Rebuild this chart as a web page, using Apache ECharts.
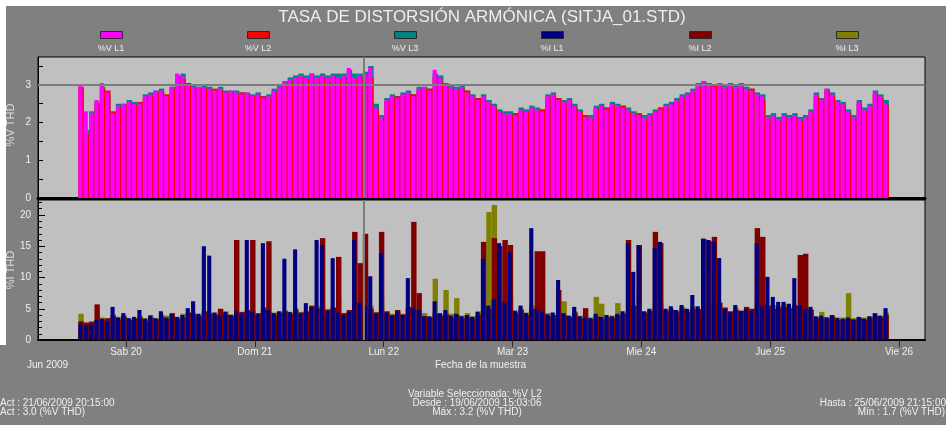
<!DOCTYPE html>
<html>
<head>
<meta charset="utf-8">
<script src="https://cdn.jsdelivr.net/npm/echarts@6/dist/echarts.min.js"></script>
<style>
html,body{margin:0;padding:0;background:#808080;}
#c{width:946px;height:425px;}
</style>
</head>
<body>
<div id="c"></div>
<script>
// ---- labels ----
const titleText = 'TASA DE DISTORSIÓN ARMÓNICA (SITJA_01.STD)';
const seriesNames = ['%V L1', '%V L2', '%V L3', '%I L1', '%I L2', '%I L3'];
const seriesColors = ['#ff00ff', '#ff0000', '#008080', '#000080', '#800000', '#808000'];
const axisNames = ['%V THD', '%I THD'];
const dayLabels = ['Sab 20', 'Dom 21', 'Lun 22', 'Mar 23', 'Mie 24', 'Jue 25', 'Vie 26'];
const vLabelTicks = [0, 1, 2, 3];
const vTickMarks = [0, 0.5, 1, 1.5, 2, 2.5, 3, 3.5];
const iLabelTicks = [0, 5, 10, 15, 20];
const iMinorTicks = [0,1,2,3,4,5,6,7,8,9,10,11,12,13,14,15,16,17,18,19,20,21,22];
const vLimit = 3;

// ---- hourly THD values, 19/06 15:30 .. 25/06 21:30 ----
const vL1 = [3.0,2.3,2.25,2.6,3.05,2.8,2.25,2.45,2.5,2.55,
 2.5,2.5,2.7,2.75,2.85,2.85,2.7,2.95,3.3,3.25,
 3.0,2.95,2.95,2.95,2.9,2.85,2.9,2.8,2.85,2.8,
 2.75,2.8,2.7,2.75,2.65,2.7,2.85,2.95,3.1,3.15,
 3.2,3.25,3.2,3.3,3.2,3.25,3.2,3.25,3.2,3.25,
 3.45,3.2,3.25,3.3,3.45,2.4,2.15,2.6,2.7,2.65,
 2.75,2.8,2.7,2.9,2.95,2.85,3.4,3.2,3.0,2.95,
 2.9,2.95,2.8,2.7,2.6,2.7,2.55,2.45,2.3,2.25,
 2.25,2.2,2.35,2.3,2.4,2.35,2.3,2.7,2.75,2.6,
 2.55,2.6,2.45,2.3,2.15,2.15,2.4,2.45,2.35,2.5,
 2.45,2.4,2.35,2.25,2.2,2.15,2.2,2.3,2.35,2.45,
 2.5,2.6,2.7,2.75,2.85,3.0,3.1,3.0,2.95,3.05,
 2.95,3.0,2.95,3.0,2.9,2.85,2.75,2.7,2.15,2.2,
 2.1,2.2,2.15,2.2,2.1,2.15,2.3,2.75,2.6,2.9,
 2.75,2.55,2.5,2.3,2.15,2.55,2.35,2.45,2.8,2.7,
 2.5];
const vL2 = [2.95,1.7,2.2,2.5,2.9,2.85,2.3,2.4,2.45,2.5,
 2.45,2.55,2.65,2.7,2.8,2.8,2.75,2.9,3.2,3.15,
 3.05,2.9,2.9,2.9,2.85,2.9,2.85,2.8,2.8,2.75,
 2.8,2.75,2.7,2.7,2.7,2.65,2.8,2.9,3.05,3.1,
 3.1,3.2,3.15,3.2,3.15,3.2,3.1,3.2,3.15,3.2,
 3.2,3.15,3.2,3.0,3.2,2.35,2.1,2.55,2.65,2.7,
 2.7,2.75,2.75,2.85,2.9,2.9,3.2,3.1,2.95,2.9,
 2.85,2.9,2.85,2.65,2.65,2.6,2.5,2.4,2.3,2.2,
 2.2,2.25,2.3,2.3,2.35,2.3,2.35,2.65,2.7,2.65,
 2.5,2.55,2.4,2.3,2.2,2.1,2.35,2.4,2.4,2.45,
 2.4,2.45,2.3,2.2,2.25,2.1,2.2,2.25,2.4,2.4,
 2.45,2.55,2.65,2.7,2.8,2.95,3.05,2.95,3.0,3.0,
 2.9,2.95,2.9,2.95,2.85,2.9,2.7,2.6,2.1,2.15,
 2.05,2.15,2.1,2.15,2.05,2.1,2.25,2.7,2.55,2.85,
 2.7,2.5,2.45,2.25,2.1,2.5,2.3,2.4,2.75,2.65,
 2.45];
const vL3 = [2.9,1.8,2.3,2.55,2.95,2.75,2.2,2.5,2.5,2.6,
 2.55,2.45,2.75,2.8,2.85,2.9,2.65,2.95,3.25,3.3,
 2.95,3.0,2.95,3.0,2.95,2.85,2.95,2.85,2.85,2.85,
 2.8,2.8,2.75,2.8,2.7,2.75,2.9,3.0,3.1,3.2,
 3.25,3.3,3.25,3.3,3.25,3.3,3.25,3.3,3.3,3.3,
 3.4,3.3,3.3,3.35,3.5,2.5,2.2,2.65,2.75,2.7,
 2.8,2.85,2.75,2.95,2.95,2.9,3.3,3.25,3.05,3.0,
 2.95,3.0,2.85,2.75,2.65,2.75,2.6,2.5,2.35,2.3,
 2.3,2.25,2.4,2.35,2.45,2.4,2.35,2.75,2.8,2.65,
 2.6,2.65,2.5,2.35,2.2,2.2,2.45,2.5,2.4,2.55,
 2.5,2.45,2.4,2.3,2.25,2.2,2.25,2.35,2.4,2.5,
 2.55,2.65,2.75,2.8,2.9,3.05,3.1,3.05,3.0,3.05,
 3.0,3.05,3.0,3.05,2.95,2.9,2.8,2.75,2.2,2.25,
 2.15,2.25,2.2,2.25,2.15,2.2,2.35,2.8,2.65,2.9,
 2.8,2.6,2.55,2.35,2.2,2.6,2.4,2.5,2.85,2.75,
 2.6];
const iL1 = [2.6,2.3,2.5,3.2,3.4,3.0,5.3,3.6,4.3,3.5,
 3.7,4.8,3.4,3.9,3.5,4.6,3.6,4.1,3.7,4.0,
 5.1,6.2,4.2,15.0,13.5,4.4,3.9,4.5,4.0,4.6,
 4.2,16.0,4.5,4.1,15.5,4.8,4.3,4.6,13.0,4.5,
 14.5,4.2,5.9,5.2,16.0,15.2,4.6,13.1,4.4,4.0,
 4.5,16.0,6.0,5.5,10.2,4.2,13.9,4.4,3.9,4.6,
 4.0,9.9,5.1,4.8,3.8,3.8,6.2,4.3,4.8,3.9,
 4.2,3.8,4.0,3.7,4.5,13.0,5.5,6.5,15.5,6.0,
 14.0,4.7,5.5,4.3,17.9,5.0,4.5,4.1,4.4,9.6,
 4.3,3.9,5.3,3.8,3.6,3.5,4.2,3.7,4.0,3.8,
 4.2,4.6,15.5,10.9,15.2,4.6,5.0,14.7,15.7,5.0,
 5.4,4.8,5.6,5.0,7.2,5.4,16.2,16.0,15.7,13.1,
 5.0,4.4,5.6,4.6,5.0,4.7,15.5,5.5,10.1,6.9,
 6.1,6.1,5.8,9.9,5.5,5.0,5.3,3.8,3.9,3.6,
 4.0,3.5,3.4,3.6,3.3,3.7,3.4,3.8,4.3,3.9,
 5.1];
const iL2 = [3.0,2.8,2.9,5.7,3.3,3.5,3.9,3.3,3.8,3.2,
 3.4,3.6,3.1,3.6,3.3,3.8,3.4,4.3,3.4,3.6,
 4.4,4.1,3.8,4.6,4.2,4.0,5.0,4.1,3.8,16.0,
 4.5,4.8,16.0,4.3,5.2,15.8,4.0,4.3,4.6,4.2,
 5.0,4.4,4.5,5.5,5.0,16.3,4.9,5.2,13.3,4.3,
 4.8,17.3,12.3,17.0,5.0,4.4,17.3,4.6,4.0,4.8,
 4.1,5.3,18.9,7.5,3.8,3.6,4.2,3.9,4.2,3.6,
 4.0,3.5,3.7,3.4,4.0,15.7,5.0,16.3,15.0,16.0,
 15.2,4.3,4.8,4.0,5.0,14.2,14.2,3.8,4.0,8.0,
 4.0,3.6,4.4,3.5,5.1,3.3,3.8,3.4,3.6,3.5,
 3.9,4.2,16.0,5.5,15.2,4.3,4.6,17.3,15.5,4.6,
 4.8,4.4,5.0,4.5,5.0,4.9,16.2,15.8,16.5,6.0,
 5.2,4.6,4.8,4.7,5.3,5.0,17.9,16.5,5.5,5.0,
 5.2,5.3,5.0,5.5,13.6,13.8,4.8,3.5,3.6,3.4,
 3.7,3.2,3.3,3.4,3.1,3.5,3.2,3.5,3.8,3.6,
 4.0];
const iL3 = [4.2,2.6,3.0,3.4,3.6,3.2,4.1,3.7,3.9,3.4,
 3.5,3.9,3.5,4.0,3.4,4.1,3.9,3.8,3.6,4.2,
 4.0,4.3,4.0,4.5,4.4,4.3,4.2,4.6,4.1,4.4,
 4.3,4.5,4.7,4.0,4.6,4.5,4.4,4.5,4.8,4.4,
 4.6,4.5,4.6,4.8,5.4,5.5,4.5,5.1,6.6,4.3,
 4.6,5.3,5.8,6.5,5.5,4.5,6.0,4.3,4.2,4.5,
 4.2,5.0,5.2,4.6,4.3,3.7,9.8,4.0,8.0,4.2,
 6.7,3.9,4.3,3.8,4.6,5.5,20.5,21.6,6.0,6.5,
 7.0,4.5,5.0,4.4,5.5,5.3,4.3,4.3,4.0,4.6,
 6.2,3.8,4.6,3.9,3.8,3.6,6.9,5.8,3.9,3.9,
 5.9,4.4,5.2,5.0,7.5,4.5,4.8,5.8,6.0,4.9,
 5.0,4.6,5.3,4.8,5.4,5.0,5.8,5.5,6.0,5.5,
 4.8,4.3,5.2,4.5,4.9,4.5,6.0,5.8,5.5,5.6,
 5.4,5.8,5.2,5.6,5.3,5.4,5.0,3.7,4.5,3.7,
 4.0,3.6,3.6,7.5,3.5,3.6,3.6,3.8,4.2,3.8,
 4.4];

// ---- time frame (ms timestamps on a linear value axis) ----
const HOUR = 3600000;
const firstSample = new Date(2009, 5, 19, 15, 30).getTime();
const axisStart = new Date(2009, 5, 19, 7, 36).getTime();
const axisEnd = new Date(2009, 5, 26, 4, 51).getTime();
const cursorTime = new Date(2009, 5, 21, 20, 15).getTime();
const dayTicks = dayLabels.map((_, k) => new Date(2009, 5, 20 + k).getTime());
const toPairs = arr => arr.map((v, i) => [firstSample + i * HOUR, v]);

const FONT = '"Liberation Sans", Arial, sans-serif';
const TEXT = '#efefef';
const GRID_LEFT = 38, GRID_W = 887;

function bars(name, values, axis, width, color, extra) {
  return Object.assign({
    name, type: 'bar', xAxisIndex: axis, yAxisIndex: axis,
    data: toPairs(values), barWidth: width, barGap: '-100%',
    itemStyle: { color }, silent: true, animation: false,
    emphasis: { disabled: true }
  }, extra || {});
}

function cursorAndLimit(withLimit) {
  const data = [{ xAxis: cursorTime }];
  if (withLimit) data.push({ yAxis: vLimit });
  return {
    silent: true, animation: false, symbol: ['none', 'none'],
    label: { show: false },
    lineStyle: { color: '#7c7c7c', width: 2, type: 'solid' },
    emphasis: { disabled: true },
    data
  };
}

const legendCenters = [111, 258, 405, 552, 700, 847];
const axisNameCenters = [[11, 125], [11, 270]];

const option = {
  backgroundColor: '#808080',
  animation: false,
  textStyle: { fontFamily: FONT },
  title: {
    text: titleText, left: 477, top: 4, textAlign: 'center',
    textStyle: { color: '#eeeeee', fontSize: 17, fontWeight: 'normal', fontFamily: FONT }
  },
  legend: seriesNames.map((n, k) => ({
    data: [n], left: legendCenters[k] - 11, top: 31, padding: 0,
    itemWidth: 22, itemHeight: 7, icon: 'rect', selectedMode: false,
    formatter: () => '', textStyle: { fontSize: 1 },
    itemStyle: { borderColor: '#2a2a2a', borderWidth: 1 }
  })),
  grid: [
    { left: GRID_LEFT, top: 57, width: GRID_W, height: 141, show: true,
      containLabel: false, outerBoundsMode: 'none',
      backgroundColor: '#c0c0c0', borderColor: '#000', borderWidth: 1 },
    { left: GRID_LEFT, top: 200, width: GRID_W, height: 140, show: true,
      containLabel: false, outerBoundsMode: 'none',
      backgroundColor: '#c0c0c0', borderColor: '#000', borderWidth: 1 }
  ],
  xAxis: [
    { type: 'value', gridIndex: 0, min: axisStart, max: axisEnd, scale: true,
      axisLine: { show: true, onZero: false, lineStyle: { color: '#000', width: 3 } },
      axisTick: { show: false }, axisLabel: { show: false }, splitLine: { show: false } },
    { type: 'value', gridIndex: 1, min: axisStart, max: axisEnd, scale: true,
      axisLine: { show: true, onZero: false, lineStyle: { color: '#000', width: 2 } },
      axisTick: { show: true, customValues: dayTicks, length: 7, lineStyle: { color: '#2a2a2a', width: 1 } },
      axisLabel: { show: true, customValues: dayTicks, color: TEXT, fontSize: 10, margin: 7,
        fontFamily: FONT,
        formatter: v => { const k = dayTicks.indexOf(v); return k >= 0 ? dayLabels[k] : ''; } },
      splitLine: { show: false } }
  ],
  yAxis: [
    { type: 'value', gridIndex: 0, min: 0, max: 3.74,
      axisLine: { show: true, lineStyle: { color: '#000', width: 1 } },
      axisTick: { show: true, inside: true, length: 5, customValues: vTickMarks, lineStyle: { color: '#000' } },
      axisLabel: { customValues: vLabelTicks, color: TEXT, fontSize: 10, margin: 7, fontFamily: FONT },
      splitLine: { show: false } },
    { type: 'value', gridIndex: 1, min: 0, max: 22.4,
      axisLine: { show: true, lineStyle: { color: '#000', width: 1 } },
      axisTick: { show: true, inside: true, length: 7, customValues: iLabelTicks, lineStyle: { color: '#000' } },
      axisLabel: { customValues: iLabelTicks, color: TEXT, fontSize: 10, margin: 7, fontFamily: FONT },
      splitLine: { show: false } },
    { type: 'value', gridIndex: 1, min: 0, max: 22.4, position: 'left', offset: 0,
      axisLine: { show: false },
      axisTick: { show: true, inside: true, length: 4, customValues: iMinorTicks, lineStyle: { color: '#000' } },
      axisLabel: { show: false }, splitLine: { show: false } }
  ],
  series: [
    bars(seriesNames[2], vL3, 0, 5.4, seriesColors[2]),
    bars(seriesNames[1], vL2, 0, 5.4, seriesColors[1]),
    bars(seriesNames[0], vL1, 0, 4.1, seriesColors[0], { markLine: cursorAndLimit(true) }),
    bars(seriesNames[5], iL3, 1, 5.4, seriesColors[5]),
    bars(seriesNames[4], iL2, 1, 5.4, seriesColors[4]),
    bars(seriesNames[3], iL1, 1, 4.1, seriesColors[3], { markLine: cursorAndLimit(false) })
  ],
  graphic: [
    { type: 'rect', shape: { x: 0, y: 0, width: 946, height: 6 }, style: { fill: '#ffffff' }, silent: true, z: -1 },
    { type: 'rect', shape: { x: 0, y: 0, width: 6, height: 345 }, style: { fill: '#ffffff' }, silent: true, z: -1 }
  ].concat(axisNames.map((n, k) => ({
    type: 'text', x: axisNameCenters[k][0], y: axisNameCenters[k][1], rotation: Math.PI / 2, silent: true,
    style: { text: n, fill: '#dddddd', font: '11px ' + FONT, textAlign: 'center', textVerticalAlign: 'middle' }
  }))).concat(seriesNames.map((n, k) => ({
    type: 'text', x: legendCenters[k], y: 49, silent: true,
    style: { text: n, fill: TEXT, font: '9px ' + FONT, textAlign: 'center', textVerticalAlign: 'middle' }
  }))).concat([
    ['Jun 2009', 27, 365, 'left'],
    ['Fecha de la muestra', 435, 365, 'left'],
    ['Variable Seleccionada: %V L2', 475, 394, 'center'],
    ['Desde : 19/06/2009 15:03:06', 477, 403, 'center'],
    ['Máx : 3.2 (%V THD)', 477, 412, 'center'],
    ['Act : 21/06/2009 20:15:00', 0, 403, 'left'],
    ['Act : 3.0 (%V THD)', 0, 412, 'left'],
    ['Hasta : 25/06/2009 21:15:00', 946, 403, 'right'],
    ['Mín : 1.7 (%V THD)', 945, 412, 'right']
  ].map(([t, x, y, a]) => ({
    type: 'text', x, y, silent: true,
    style: { text: t, fill: TEXT, font: '10px ' + FONT, textAlign: a, textVerticalAlign: 'middle' }
  })))
};

const chart = echarts.init(document.getElementById('c'), null, { renderer: 'canvas' });
chart.setOption(option);
</script>
</body>
</html>
